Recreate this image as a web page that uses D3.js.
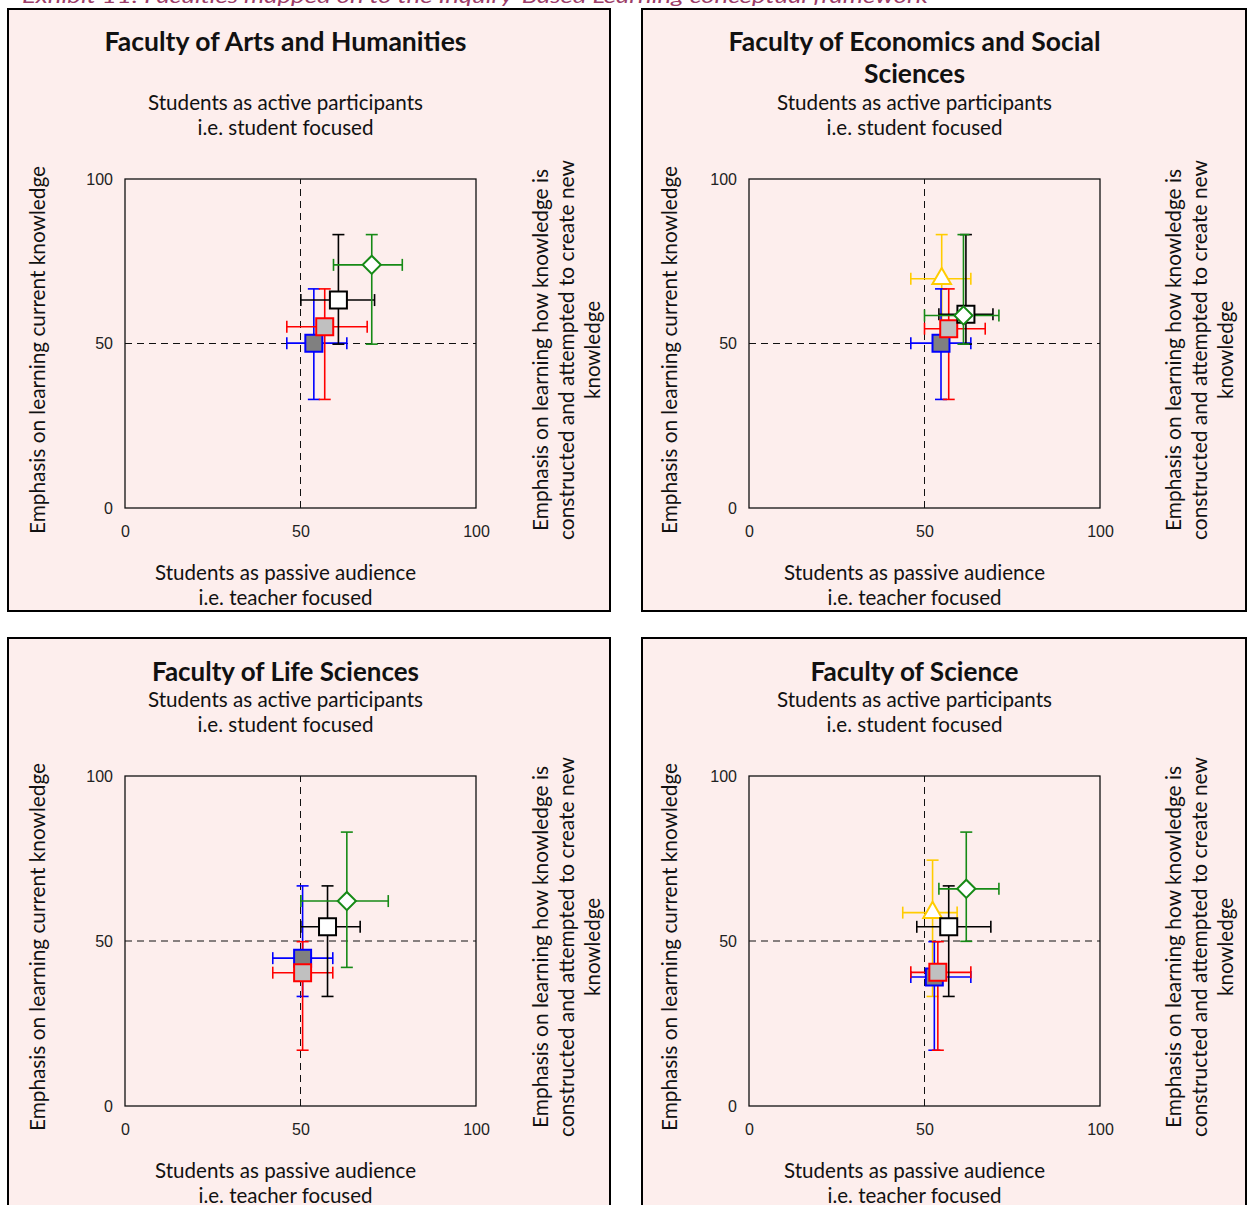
<!DOCTYPE html>
<html>
<head>
<meta charset="utf-8">
<script src="https://cdn.jsdelivr.net/npm/d3@7"></script>
<style>
  body { margin: 0; background: #fff; }
  svg { display: block; }
</style>
</head>
<body>
<script>
// ---- data ----
const tickValues = [0, 50, 100];

const caption = "Exhibit 11: Faculties mapped on to the Inquiry-Based Learning conceptual framework";
const facultyTitles = [
    ["Faculty of Arts and Humanities"],
    ["Faculty of Economics and Social", "Sciences"],
    ["Faculty of Life Sciences"],
    ["Faculty of Science"]
];
const topLabel = ["Students as active participants", "i.e. student focused"];
const bottomLabel = ["Students as passive audience", "i.e. teacher focused"];
const leftLabel = "Emphasis on learning current knowledge";
const rightLabel = ["Emphasis on learning how knowledge is", "constructed and attempted to create new", "knowledge"];

// series, x, xLow, xHigh, y, yLow, yHigh
const artsPoints = [
    ["blue",  53.8, 46.1, 63.2, 50.1, 33.0, 66.6],
    ["red",   56.9, 46.1, 69.0, 55.1, 33.0, 66.6],
    ["black", 60.8, 50.1, 71.1, 63.2, 49.8, 83.1],
    ["green", 70.3, 59.4, 79.0, 73.9, 49.8, 83.1]
];
const econPoints = [
    ["yellow", 54.9, 46.1, 63.2, 69.7, 50.0, 83.1],
    ["blue",   54.7, 46.1, 63.2, 50.1, 33.0, 66.6],
    ["red",    56.9, 50.0, 67.3, 54.5, 33.0, 66.6],
    ["black",  61.8, 54.1, 69.5, 58.9, 49.8, 83.1],
    ["green",  61.1, 50.0, 71.2, 58.5, 49.8, 83.1]
];
const lifePoints = [
    ["blue",  50.6, 42.1, 59.2, 44.8, 33.2, 66.7],
    ["red",   50.6, 42.1, 59.2, 40.4, 16.9, 49.8],
    ["black", 57.7, 50.1, 67.0, 54.3, 33.2, 66.7],
    ["green", 63.2, 50.1, 75.0, 62.1, 42.0, 83.0]
];
const sciencePoints = [
    ["yellow", 52.3, 43.8, 59.3, 58.6, 33.2, 74.5],
    ["blue",   52.8, 46.1, 63.2, 39.1, 16.9, 49.8],
    ["red",    53.8, 46.1, 63.2, 40.5, 16.9, 49.8],
    ["black",  56.9, 47.8, 68.9, 54.3, 33.2, 66.7],
    ["green",  61.9, 54.1, 71.2, 65.8, 49.9, 83.0]
];

// ---- styles ----
const seriesStyle = {
    yellow: { stroke: "#ffcc00", fill: "#ffffff", shape: "triangle" },
    blue:   { stroke: "#0000ff", fill: "#808080", shape: "square" },
    red:    { stroke: "#ff0000", fill: "#c0c0c0", shape: "square" },
    black:  { stroke: "#000000", fill: "#ffffff", shape: "square" },
    green:  { stroke: "#168a16", fill: "#ffffff", shape: "diamond" }
};
const bg = "#fdeeed";
const labelFont = "Lato, 'Open Sans', sans-serif";

// panel layout (pixels)
const panels = [
    { box: [8, 9, 602, 602], plot: [125, 179, 351, 329], cx: 285.5, title: [51], top: [110, 135], bottom: [580, 605], left: 45, right: [548, 574, 600], midY: 350, data: artsPoints },
    { box: [642, 9, 604, 602], plot: [749, 179, 351, 329], cx: 914.5, title: [51, 83], top: [110, 135], bottom: [580, 605], left: 677, right: [1181, 1207, 1233], midY: 350, data: econPoints },
    { box: [8, 638, 602, 600], plot: [125, 776, 351, 330], cx: 285.5, title: [681], top: [707, 732], bottom: [1178, 1203], left: 45, right: [548, 574, 600], midY: 947, data: lifePoints },
    { box: [642, 638, 604, 600], plot: [749, 776, 351, 330], cx: 914.5, title: [681], top: [707, 732], bottom: [1178, 1203], left: 677, right: [1181, 1207, 1233], midY: 947, data: sciencePoints }
];
const titleWidths = [[362], [372, 101], [267], [208]];
const topWidths = [275, 176];
const bottomWidths = [261, 174];
const rightWidths = [362, 380, 98];

const svg = d3.select("body").append("svg")
    .attr("width", 1250)
    .attr("height", 1205);

svg.append("text")
    .attr("x", 22)
    .attr("y", 2.5)
    .attr("textLength", 906)
    .attr("lengthAdjust", "spacingAndGlyphs")
    .style("font-family", labelFont)
    .style("font-style", "italic")
    .style("font-size", "20px")
    .style("fill", "#9c3d68")
    .text(caption);

const order = ["yellow", "blue", "red", "black", "green"];

panels.forEach(function (p, pi) {
    const g = svg.append("g");

    g.append("rect")
        .attr("x", p.box[0]).attr("y", p.box[1])
        .attr("width", p.box[2]).attr("height", p.box[3])
        .attr("fill", bg)
        .attr("stroke", "#000")
        .attr("stroke-width", 2);

    const x0 = p.plot[0], y0 = p.plot[1], w = p.plot[2], h = p.plot[3];
    const x = d3.scaleLinear().domain([0, 100]).range([x0, x0 + w]);
    const y = d3.scaleLinear().domain([0, 100]).range([y0 + h, y0]);

    function centred(txt, cx, by, width, size, weight) {
        g.append("text")
            .attr("x", cx).attr("y", by)
            .attr("text-anchor", "middle")
            .attr("textLength", width)
            .attr("lengthAdjust", "spacingAndGlyphs")
            .style("font-family", labelFont)
            .style("font-size", size + "px")
            .style("font-weight", weight || 400)
            .style("fill", "#111")
            .text(txt);
    }

    facultyTitles[pi].forEach(function (t, i) {
        centred(t, p.cx, p.title[i], titleWidths[pi][i], 26, 700);
    });
    topLabel.forEach(function (t, i) { centred(t, p.cx, p.top[i], topWidths[i], 21); });
    bottomLabel.forEach(function (t, i) { centred(t, p.cx, p.bottom[i], bottomWidths[i], 21); });

    // rotated side labels
    g.append("text")
        .attr("transform", "translate(" + p.left + "," + p.midY + ") rotate(-90)")
        .attr("text-anchor", "middle")
        .attr("textLength", 368)
        .attr("lengthAdjust", "spacingAndGlyphs")
        .style("font-family", labelFont)
        .style("font-size", "21px")
        .style("fill", "#111")
        .text(leftLabel);

    rightLabel.forEach(function (t, i) {
        g.append("text")
            .attr("transform", "translate(" + p.right[i] + "," + p.midY + ") rotate(-90)")
            .attr("text-anchor", "middle")
            .attr("textLength", rightWidths[i])
            .attr("lengthAdjust", "spacingAndGlyphs")
            .style("font-family", labelFont)
            .style("font-size", "21px")
            .style("fill", "#111")
            .text(t);
    });

    // plot frame + reference lines at 50
    g.append("rect")
        .attr("x", x0).attr("y", y0)
        .attr("width", w).attr("height", h)
        .attr("fill", "none")
        .attr("stroke", "#111")
        .attr("stroke-width", 1.3);

    g.append("line")
        .attr("x1", x(50)).attr("x2", x(50))
        .attr("y1", y(0)).attr("y2", y(100))
        .attr("stroke", "#111").attr("stroke-dasharray", "7,5");
    g.append("line")
        .attr("x1", x(0)).attr("x2", x(100))
        .attr("y1", y(50)).attr("y2", y(50))
        .attr("stroke", "#111").attr("stroke-dasharray", "7,5");

    const xAxis = g.append("g")
        .attr("transform", "translate(0," + (y0 + h) + ")")
        .call(d3.axisBottom(x).tickValues(tickValues).tickSize(0).tickPadding(18));
    const yAxis = g.append("g")
        .attr("transform", "translate(" + x0 + ",0)")
        .call(d3.axisLeft(y).tickValues(tickValues).tickSize(0).tickPadding(12));
    [xAxis, yAxis].forEach(function (a) {
        a.select(".domain").remove();
        a.selectAll("text")
            .style("font-family", "'Liberation Sans', Arial, sans-serif")
            .style("font-size", "16px")
            .style("fill", "#222");
    });

    const rows = p.data.slice().sort(function (a, b) {
        return order.indexOf(a[0]) - order.indexOf(b[0]);
    });
    const cap = 6;

    // error bars first
    rows.forEach(function (d) {
        const s = seriesStyle[d[0]];
        const eb = g.append("g")
            .attr("stroke", s.stroke)
            .attr("stroke-width", 1.6)
            .attr("fill", "none");
        eb.append("line")
            .attr("x1", x(d[2])).attr("x2", x(d[3]))
            .attr("y1", y(d[4])).attr("y2", y(d[4]));
        eb.append("line")
            .attr("x1", x(d[1])).attr("x2", x(d[1]))
            .attr("y1", y(d[5])).attr("y2", y(d[6]));
        [d[2], d[3]].forEach(function (v) {
            eb.append("line")
                .attr("x1", x(v)).attr("x2", x(v))
                .attr("y1", y(d[4]) - cap).attr("y2", y(d[4]) + cap);
        });
        [d[5], d[6]].forEach(function (v) {
            eb.append("line")
                .attr("x1", x(d[1]) - cap).attr("x2", x(d[1]) + cap)
                .attr("y1", y(v)).attr("y2", y(v));
        });
    });

    // markers on top
    rows.forEach(function (d) {
        const s = seriesStyle[d[0]];
        let sym, rot = 0;
        if (s.shape === "square") {
            sym = d3.symbol().type(d3.symbolSquare).size(289);
        } else if (s.shape === "diamond") {
            sym = d3.symbol().type(d3.symbolSquare).size(165);
            rot = 45;
        } else {
            sym = d3.symbol().type(d3.symbolTriangle).size(150);
        }
        g.append("path")
            .attr("d", sym())
            .attr("transform", "translate(" + x(d[1]) + "," + y(d[4]) + ") rotate(" + rot + ")")
            .attr("fill", s.fill)
            .attr("stroke", s.stroke)
            .attr("stroke-width", 2);
    });
});
</script>
</body>
</html>
